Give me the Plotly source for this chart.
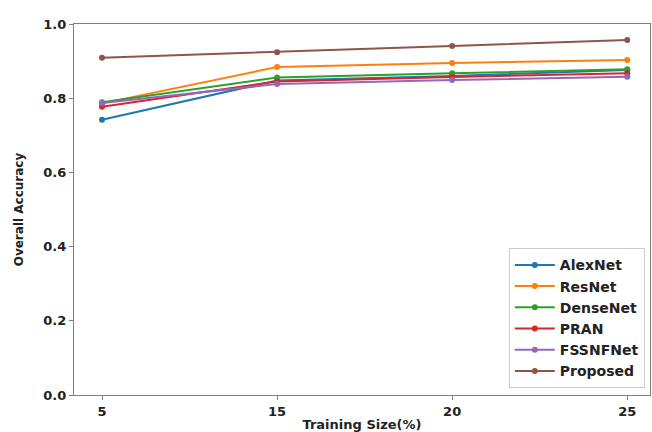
import plotly.graph_objects as go

training_size = ["5", "15", "20", "25"]
alexnet = [0.742, 0.848, 0.860, 0.876]
resnet = [0.786, 0.884, 0.895, 0.903]
densenet = [0.789, 0.856, 0.867, 0.878]
pran = [0.777, 0.845, 0.857, 0.867]
fssnfnet = [0.787, 0.838, 0.849, 0.858]
proposed = [0.909, 0.924, 0.941, 0.957]

series = [
    ("AlexNet", alexnet, "#1f77b4"),
    ("ResNet", resnet, "#ff7f0e"),
    ("DenseNet", densenet, "#2ca02c"),
    ("PRAN", pran, "#d62728"),
    ("FSSNFNet", fssnfnet, "#9467bd"),
    ("Proposed", proposed, "#8c564b"),
]

fig = go.Figure()
for name, vals, color in series:
    fig.add_trace(go.Scatter(
        x=list(range(len(training_size))), y=vals, name=name, mode="lines+markers",
        line=dict(color=color, width=2), marker=dict(color=color, size=6),
    ))

font_family = "DejaVu Sans"
fig.update_layout(
    width=652, height=432,
    margin=dict(l=74, r=2, t=24, b=37, autoexpand=False),
    plot_bgcolor="white", paper_bgcolor="white",
    font=dict(family=font_family, size=13, color="#222"),
    showlegend=True,
    legend=dict(
        x=0.991, y=0.018, xanchor="right", yanchor="bottom",
        bordercolor="#cccccc", borderwidth=1, bgcolor="white",
        font=dict(family=font_family, size=14, color="#222", weight="bold"),
        itemwidth=40, tracegroupgap=0,
    ),
    xaxis=dict(
        tickmode="array", tickvals=list(range(len(training_size))), ticktext=training_size,
        range=[-0.16, 3.13], showgrid=False, zeroline=False, automargin=False,
        showline=True, linecolor="#808080", linewidth=1.2, mirror=True,
        ticks="outside", ticklen=4, tickcolor="#808080",
        tickfont=dict(family=font_family, size=13, weight="bold"),
        title=dict(text="Training Size(%)", font=dict(family=font_family, size=13, weight="bold"), standoff=4),
    ),
    yaxis=dict(
        range=[0, 1.0], tickvals=[0, 0.2, 0.4, 0.6, 0.8, 1.0], tickformat=".1f",
        showgrid=False, zeroline=False, automargin=False,
        showline=True, linecolor="#808080", linewidth=1.2, mirror=True,
        ticks="outside", ticklen=4, tickcolor="#808080",
        tickfont=dict(family=font_family, size=13, weight="bold"),
        title=dict(text="Overall Accuracy", font=dict(family=font_family, size=12, weight="bold"), standoff=17),
    ),
)

fig.write_html(
    "out.html",
    config={"displayModeBar": False},
    post_script="document.body.style.margin='0';document.body.style.overflow='hidden';",
)
